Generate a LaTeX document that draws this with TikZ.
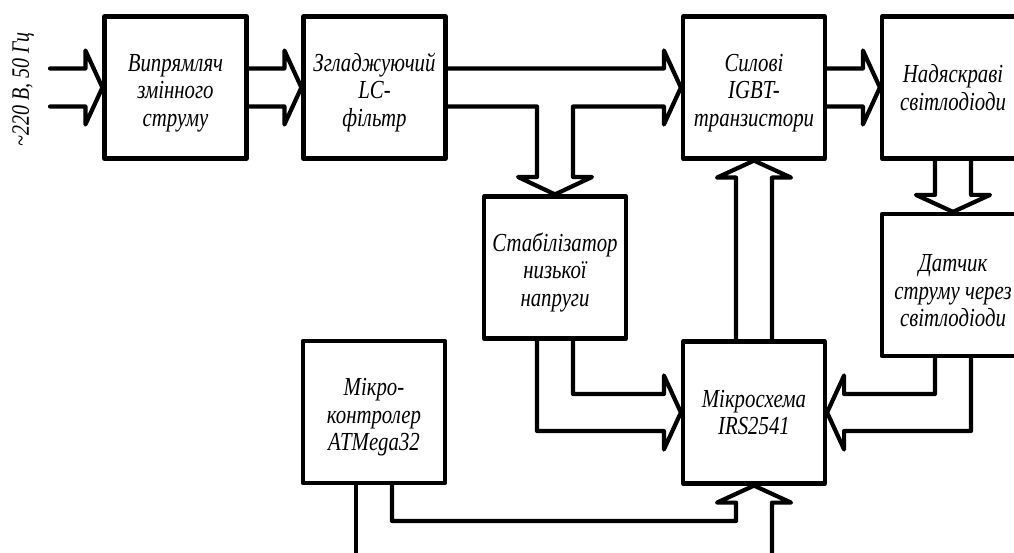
\documentclass[tikz,border=0pt]{standalone}
\usepackage{fontspec}
\setmainfont{Liberation Serif}[FakeStretch=0.8]
\usetikzlibrary{calc}
\newcommand\harr[3]{\draw ($(#1)+(0,-19)$) -- ($(#2)+(-17*#3,-19)$) -- ($(#2)+(-17*#3,-37)$) -- (#2) -- ($(#2)+(-17*#3,37)$) -- ($(#2)+(-17*#3,19)$) -- ($(#1)+(0,19)$);}
\newcommand\varr[3]{\draw ($(#1)+(-18,0)$) -- ($(#2)+(-18,-17*#3)$) -- ($(#2)+(-37,-17*#3)$) -- (#2) -- ($(#2)+(37,-17*#3)$) -- ($(#2)+(18,-17*#3)$) -- ($(#1)+(18,0)$);}
\newcommand\tstrut{\rule{0pt}{28.5pt}}
\begin{document}
\begin{tikzpicture}[x=1pt,y=-1pt,line width=4.2pt,line join=round,line cap=round,
  blk/.style={draw,minimum width=142pt,minimum height=142pt,inner sep=0pt,align=center,
    font=\fontsize{26}{27.5}\selectfont\itshape},
  lbl/.style={font=\fontsize{25}{27}\selectfont\itshape,inner sep=0pt}]
\useasboundingbox (0,0) rectangle (1014,553);
\clip (0,0) rectangle (1014,553);
\node[blk] (b1) at (175.5,87.5) {\tstrut Випрямляч\\змінного\\струму};
\node[blk] (b2) at (374.5,87.5) {\tstrut Згладжуючий\\LC-\\фільтр};
\node[blk] (b3) at (754,87.5) {\tstrut Силові\\IGBT-\\транзистори};
\node[blk] (b4) at (953,87.5) {Надяскраві\\світлодіоди};
\node[blk] (b5) at (555,267.5) {\tstrut Стабілізатор\\низької\\напруги};
\node[blk] (b6) at (953,285) {\tstrut Датчик\\струму через\\світлодіоди};
\node[blk] (b7) at (374,412) {\tstrut Мікро-\\контролер\\ATMega32};
\node[blk] (b8) at (754,412.5) {Мікросхема\\IRS2541};
\node[lbl,rotate=90] (lab) at (23,89.5) {\char`\~220 В, 50 Гц};
\coordinate (in1) at (50,87.5);
\coordinate (o1) at (356,560);
\coordinate (o2) at (772,560);
% input and top row
\harr{in1}{b1.west}{1}
\harr{b1.east}{b2.west}{1}
\harr{b3.east}{b4.west}{1}
% filter -> transistors and stabilizer
\draw ($(b2.east)+(0,-19)$) -- ($(b3.west)+(-17,-19)$) -- ($(b3.west)+(-17,-37)$) -- (b3.west)
  -- ($(b3.west)+(-17,37)$) -- ($(b3.west)+(-17,19)$) -- (573,106.5) -- (573,177)
  -- (592,177) -- (b5.north) -- (518,177) -- (537,177) -- (537,106.5) -- ($(b2.east)+(0,19)$);
% LEDs -> sensor
\varr{b4.south}{b6.north}{1}
% driver -> transistors
\varr{b8.north}{b3.south}{-1}
% stabilizer -> driver
\draw ($(b5.south)+(18,0)$) -- (573,394) -- ($(b8.west)+(-17,-18.5)$) -- ($(b8.west)+(-17,-37)$)
  -- (b8.west) -- ($(b8.west)+(-17,37)$) -- ($(b8.west)+(-17,18.5)$) -- (537,431) -- ($(b5.south)+(-18,0)$);
% sensor -> driver
\draw ($(b6.south)+(-18,0)$) -- (935,394) -- ($(b8.east)+(17,-18.5)$) -- ($(b8.east)+(17,-37)$)
  -- (b8.east) -- ($(b8.east)+(17,37)$) -- ($(b8.east)+(17,18.5)$) -- (971,431) -- ($(b6.south)+(18,0)$);
% microcontroller -> driver
\draw ($(b7.south)+(18,0)$) -- (392,521) -- (736,521) -- ($(b8.south)+(-18,17)$) -- ($(b8.south)+(-37,17)$)
  -- (b8.south) -- ($(b8.south)+(37,17)$) -- ($(b8.south)+(18,17)$) -- (o2);
\draw ($(b7.south)+(-18,0)$) -- (o1);
\end{tikzpicture}
\end{document}
